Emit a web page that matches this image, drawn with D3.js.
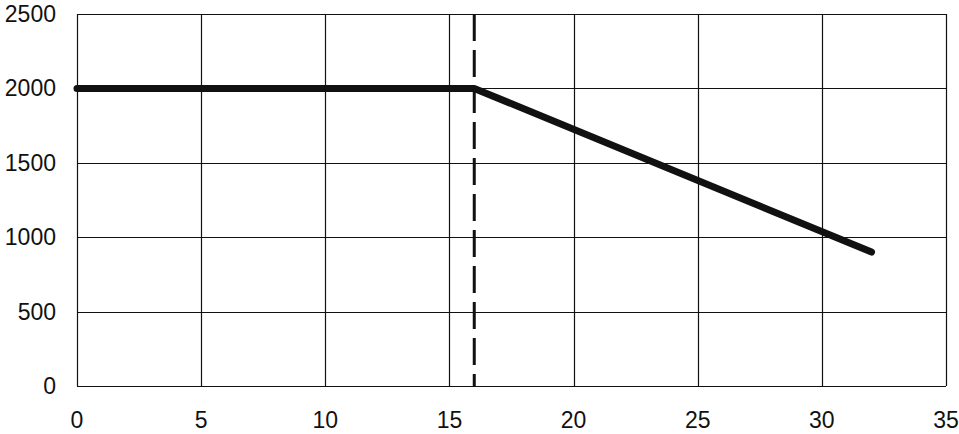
<!DOCTYPE html>
<html><head><meta charset="utf-8">
<script src="https://cdn.jsdelivr.net/npm/d3@7"></script>
<style>html,body{margin:0;padding:0;background:#fff}</style>
</head><body>
<svg id="c" width="959" height="434"></svg>
<script>
const xTicks = [0,5,10,15,20,25,30,35];
const yTicks = [0,500,1000,1500,2000,2500];
const lineX = [0,16,32];
const lineY = [2000,2000,900];
const markerX = [16];

const svg = d3.select("#c");
const m = {left:77, right:946, top:14, bottom:386};
const x = d3.scaleLinear().domain([0,35]).range([m.left,m.right]);
const y = d3.scaleLinear().domain([0,2500]).range([m.bottom,m.top]);
const font = "'Liberation Sans', Arial, Helvetica, sans-serif";

const g = svg.append("g");
g.selectAll(".vx").data(xTicks).enter().append("line")
  .attr("x1",d=>Math.round(x(d))+0.5).attr("x2",d=>Math.round(x(d))+0.5)
  .attr("y1",m.top).attr("y2",m.bottom).attr("stroke","#111").attr("stroke-width",1.2);
g.selectAll(".hy").data(yTicks).enter().append("line")
  .attr("y1",d=>Math.round(y(d))+0.5).attr("y2",d=>Math.round(y(d))+0.5)
  .attr("x1",m.left).attr("x2",m.right).attr("stroke","#111").attr("stroke-width",1.2);

g.selectAll(".xl").data(xTicks).enter().append("text")
  .attr("x",d=>x(d)).attr("y",420).attr("text-anchor","middle").attr("dominant-baseline","central")
  .attr("font-family",font).attr("font-size",23).attr("fill","#111").text(d=>d);
g.selectAll(".yl").data(yTicks).enter().append("text")
  .attr("x",56).attr("y",d=>y(d)).attr("text-anchor","end").attr("dominant-baseline","central")
  .attr("font-family",font).attr("font-size",23).attr("fill","#111").text(d=>d);

g.selectAll(".mk").data(markerX).enter().append("line")
  .attr("x1",d=>x(d)).attr("x2",d=>x(d)).attr("y1",m.top).attr("y2",m.bottom)
  .attr("stroke","#111").attr("stroke-width",3).attr("stroke-dasharray","27,9");

const pts = lineX.map((v,i)=>[v,lineY[i]]);
g.append("path").datum(pts)
  .attr("d",d3.line().x(d=>x(d[0])).y(d=>y(d[1])))
  .attr("fill","none").attr("stroke","#111").attr("stroke-width",7)
  .attr("stroke-linecap","round").attr("stroke-linejoin","round");
</script>
</body></html>
